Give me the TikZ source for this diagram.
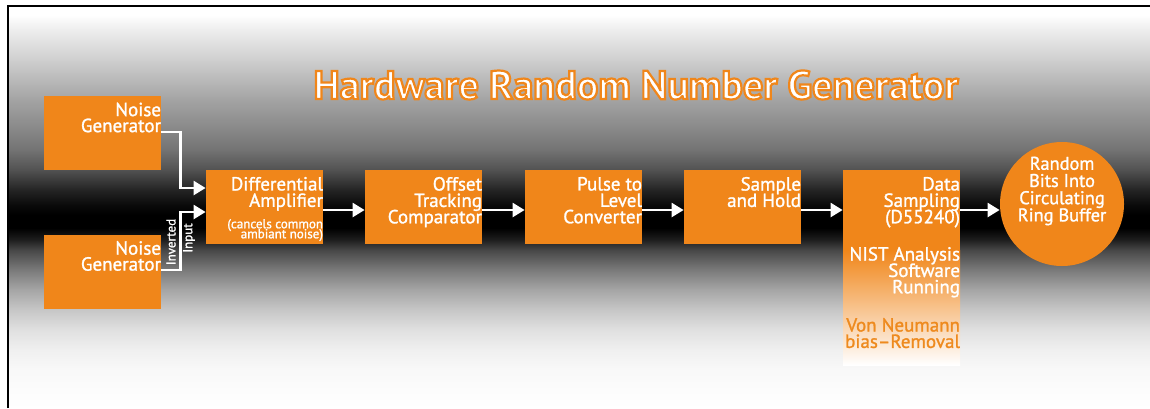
\documentclass[tikz,border=0pt]{standalone}
\usepackage{fontspec}
\setmainfont{PT Sans}[FakeBold=1.3]
\newfontfamily\titlefont{PT Sans}
\usetikzlibrary{arrows.meta,calc}
\definecolor{org}{HTML}{F0861A}
\definecolor{orgtext}{HTML}{EE8A1E}
\newcommand\tightls{\lineskiplimit=-10pt\relax}
\newcommand\outlinetext[1]{\special{pdf:code q 2 Tr 1.1 w 0.941 0.525 0.102 RG}#1\special{pdf:code Q}}
\pgfdeclareverticalshading{bgshade}{100bp}{color(0bp)=(white); color(25bp)=(white); color(29.73bp)=(black!2.5); color(32.21bp)=(black!6); color(34.70bp)=(black!12); color(37.19bp)=(black!22); color(39.68bp)=(black!35); color(42.16bp)=(black!52); color(44.65bp)=(black!72); color(45.90bp)=(black!88); color(47.39bp)=(black); color(49.00bp)=(black); color(50.25bp)=(black!96); color(52.11bp)=(black!86); color(54.60bp)=(black!68); color(57.09bp)=(black!55); color(59.58bp)=(black!47); color(63.31bp)=(black!36); color(68.28bp)=(black!19); color(72.01bp)=(black!7); color(73.88bp)=(white); color(75bp)=(white); color(100bp)=(white)}
\begin{document}
\begin{tikzpicture}[x=0.5pt,y=-0.5pt,
  box/.style={fill=org, inner sep=0, minimum width=58.5pt, minimum height=37pt},
  btxt/.style={text=white, font={\fontsize{9.5}{8.2}\selectfont\tightls}, align=right, inner sep=0, anchor=north east},
  ngtxt/.style={btxt, font={\fontsize{9.5}{8}\selectfont\tightls}},
  stxt/.style={text=white, font={\fontsize{6.5}{5}\selectfont\tightls}, align=right, inner sep=0, anchor=north east},
  ctxt/.style={text=white, font={\fontsize{9.2}{8.6}\selectfont\tightls}, align=center, inner sep=0},
  ltxt/.style={text=white, font={\fontsize{6.5}{6.5}\selectfont}, inner sep=0, rotate=90},
  ttl/.style={font={\titlefont\bfseries\fontsize{20.1}{21}\selectfont}, inner sep=0, text=white},
  conn/.style={draw=white, line width=1.2pt, -{Triangle[length=6pt,width=7pt]}},
]
\useasboundingbox (0,0) rectangle (1150,408);
\fill[white] (0,0) rectangle (1150,408);
\shade[shading=bgshade] (8,6) rectangle (1150,408);
\draw[line width=0.8pt] (8,408) -- (8,6) -- (1150,6);

% title
\node[ttl] (title) at (636,85) {\outlinetext{Hardware Random Number Generator}};

% boxes
\node[box] (ng1) at (102.5,133) {};
\node[box] (ng2) at (102.5,271.5) {};
\node[box] (da) at (264.5,207) {};
\node[box] (otc) at (423.5,207) {};
\node[box] (plc) at (583.5,207) {};
\node[box] (sh) at (742.5,207) {};
\node[box, minimum height=40pt] (ds) at (901.5,210) {};
\node[inner sep=0, minimum width=58.5pt, minimum height=57.5pt, top color=org, bottom color=white, anchor=north] (dsf) at ([yshift=0.3pt]ds.south) {};
\node[circle, fill=org, minimum size=62pt, inner sep=0] (rb) at (1062,204) {};

% texts
\node[ngtxt] (t1) at ([yshift=-3.3pt]ng1.north east) {Noise\\Generator};
\node[ngtxt] (t2) at ([yshift=-3.3pt]ng2.north east) {Noise\\Generator};
\node[btxt] (t3) at ([yshift=-3.5pt]da.north east) {Differential\\Amplifier};
\node[stxt] (t3b) at ([yshift=-24.5pt]da.north east) {(cancels common\\ambiant noise)};
\node[btxt] (t4) at ([yshift=-3.5pt]otc.north east) {Offset\\Tracking\\Comparator};
\node[btxt] (t5) at ([yshift=-3.5pt]plc.north east) {Pulse to\\Level\\Converter};
\node[btxt] (t6) at ([yshift=-3.5pt]sh.north east) {Sample\\and Hold};
\node[btxt] (t7) at ([yshift=-3.5pt]ds.north east) {Data\\Sampling\\(D55240)};
\node[btxt] (t8) at ([yshift=-38.5pt]ds.north east) {NIST Analysis\\Software\\Running};
\node[btxt, text=orgtext] (t9) at ([yshift=-74pt]ds.north east) {Von Neumann\\bias--Removal};
\node[ctxt] (t10) at (1062,191) {Random\\Bits Into\\Circulating\\Ring Buffer};
\node[ltxt] (inv) at (171,242) {Inverted};
\node[ltxt] (inp) at (189,238) {Input};

% connectors
\draw[conn] ([yshift=0.5pt]ng1.east) -- ++(19,0) |- ([yshift=9.5pt]da.west);
\draw[conn] ([yshift=0.75pt]ng2.east) -- ++(19,0) |- ([yshift=-2.5pt]da.west);
\draw[conn] ([yshift=-1.5pt]da.east) -- ([yshift=-1.5pt]otc.west);
\draw[conn] ([yshift=-1.5pt]otc.east) -- ([yshift=-1.5pt]plc.west);
\draw[conn] ([yshift=-1.5pt]plc.east) -- ([yshift=-1.5pt]sh.west);
\draw[conn] ([yshift=-1.5pt]sh.east) -- (ds.west);
\draw[conn] (ds.east) -- (ds.east -| rb.west);
\end{tikzpicture}
\end{document}
